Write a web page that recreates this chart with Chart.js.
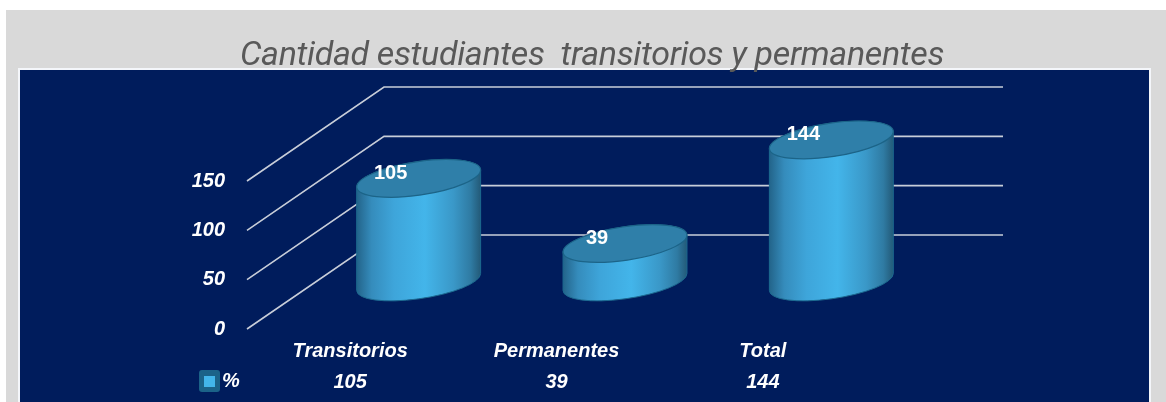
<!DOCTYPE html>
<html lang="es">
<head>
<meta charset="utf-8">
<title>Cantidad estudiantes transitorios y permanentes</title>
<script src="https://cdn.jsdelivr.net/npm/chart.js@4"></script>
<style>
  html, body { margin: 0; padding: 0; background: #fff; overflow: hidden; }
  #page { position: relative; width: 1166px; height: 402px; overflow: hidden; }
  #panel { position: absolute; left: 6px; top: 10px; right: 0; bottom: 0; background: #d9d9d9; }
  #plot { position: absolute; left: 18px; top: 68px; width: 1129px; height: 340px; background: #001c5c; border: 2px solid #f4f6fa; }
  #chartTitle {
    position: absolute; left: 0; top: 32px; width: 1184px; margin: 0; text-align: center; white-space: pre;
    font: italic 400 34px/42px Roboto, "Liberation Sans", Arial, sans-serif; letter-spacing: -0.34px; color: #595959; z-index: 2;
  }
  #chart { position: absolute; left: 0; top: 0; z-index: 1; }
</style>
</head>
<body>
<div id="page">
  <div id="panel"></div>
  <div id="plot"></div>
  <h1 id="chartTitle">Cantidad estudiantes  transitorios y permanentes</h1>
  <canvas id="chart" width="1166" height="402"></canvas>
</div>
<script>
const categories = ['Transitorios', 'Permanentes', 'Total'];
const percentValues = [105, 39, 144];
const seriesName = '%';
const yTicks = [0, 50, 100, 150];

// how far the back wall sits from the front plane
const DEPTH_X = 137;
const DEPTH_Y = -94;
const TEXT_FONT = '"Liberation Sans", Arial, sans-serif';

// walls: lines on the left side wall and the back wall
const wallGrid = {
  id: 'wallGrid',
  beforeDatasetsDraw(chart) {
    const { ctx, scales: { x, y } } = chart;
    ctx.save();
    ctx.strokeStyle = '#c8ced9';
    ctx.lineWidth = 1.6;
    yTicks.forEach(v => {
      const py = y.getPixelForValue(v);
      ctx.beginPath();
      ctx.moveTo(x.left, py);
      ctx.lineTo(x.left + DEPTH_X, py + DEPTH_Y);
      ctx.lineTo(x.right + DEPTH_X, py + DEPTH_Y);
      ctx.stroke();
    });
    ctx.restore();
  }
};

// bars are kept transparent, the cylinders are drawn on top of their elements
const cylinders = {
  id: 'cylinders',
  afterDatasetsDraw(chart) {
    const { ctx } = chart;
    const meta = chart.getDatasetMeta(0);
    const tilt = -8.4 * Math.PI / 180;
    const bBase = 16.7;
    meta.data.forEach((bar, i) => {
      const cx = bar.x + DEPTH_X / 2;
      const top = bar.y + DEPTH_Y / 2;
      const bottom = bar.base + DEPTH_Y / 2;
      const halfW = bar.width / 2;
      const a = halfW * 1.011;
      const b = bBase;
      const t0 = Math.atan2(b * Math.sin(-tilt), a * Math.cos(tilt));

      const grad = ctx.createLinearGradient(cx - halfW, 0, cx + halfW, 0);
      grad.addColorStop(0, '#23648a');
      grad.addColorStop(0.12, '#358cbc');
      grad.addColorStop(0.3, '#3ea5da');
      grad.addColorStop(0.55, '#43b5ea');
      grad.addColorStop(0.78, '#3a98c8');
      grad.addColorStop(0.92, '#2f7ba3');
      grad.addColorStop(1, '#235a78');

      ctx.save();
      ctx.beginPath();
      ctx.ellipse(cx, bottom, a, b, tilt, t0, t0 + Math.PI);
      ctx.ellipse(cx, top, a, b, tilt, t0 + Math.PI, t0 + 2 * Math.PI);
      ctx.closePath();
      ctx.fillStyle = grad;
      ctx.fill();
      ctx.strokeStyle = '#1c6a90';
      ctx.lineWidth = 1;
      ctx.stroke();

      ctx.beginPath();
      ctx.ellipse(cx, top, a, b, tilt, 0, 2 * Math.PI);
      ctx.fillStyle = '#2f7fa9';
      ctx.fill();
      ctx.strokeStyle = '#1c6488';
      ctx.lineWidth = 1.2;
      ctx.stroke();

      ctx.fillStyle = '#fff';
      ctx.font = 'bold 20px ' + TEXT_FONT;
      ctx.textAlign = 'center';
      ctx.textBaseline = 'middle';
      ctx.fillText(String(percentValues[i]), cx - 28, top - 5);
      ctx.restore();
    });
  }
};

// legend key and series name, in the row of values under the axis
const tableKey = {
  id: 'tableKey',
  afterDraw(chart) {
    const { ctx, scales: { x } } = chart;
    const py = x.bottom - 21;
    ctx.save();
    ctx.fillStyle = '#1b6288';
    ctx.beginPath();
    ctx.roundRect(199, py - 11, 21, 22, 3);
    ctx.fill();
    ctx.fillStyle = '#43b5ea';
    ctx.fillRect(204, py - 5, 11, 11);
    ctx.fillStyle = '#fff';
    ctx.font = 'italic bold 20px ' + TEXT_FONT;
    ctx.textAlign = 'left';
    ctx.textBaseline = 'middle';
    ctx.fillText(seriesName, 222, py);
    ctx.restore();
  }
};

const axisFont = { family: TEXT_FONT, size: 20, style: 'italic', weight: 'bold' };

new Chart(document.getElementById('chart'), {
  type: 'bar',
  data: {
    labels: categories,
    datasets: [{
      label: seriesName,
      data: percentValues,
      backgroundColor: 'transparent',
      borderWidth: 0,
      barPercentage: 0.6,
      categoryPercentage: 1
    }]
  },
  plugins: [wallGrid, cylinders, tableKey],
  options: {
    responsive: false,
    animation: false,
    layout: { padding: { left: 147, right: 300, top: 181, bottom: 0 } },
    plugins: {
      legend: { display: false },
      title: { display: false },
      tooltip: { enabled: false }
    },
    scales: {
      x: {
        grid: { display: false, drawTicks: false },
        border: { display: false },
        afterFit(scale) { scale.height = 73; },
        ticks: {
          color: '#fff',
          padding: 7,
          maxRotation: 0,
          font: { ...axisFont, lineHeight: '31px' },
          callback(value, i) {
            return [categories[i], String(percentValues[i])];
          }
        }
      },
      y: {
        min: 0,
        max: 150,
        grid: { display: false, drawTicks: false },
        border: { display: false },
        afterFit(scale) { scale.width = 100; },
        afterBuildTicks(scale) { scale.ticks = yTicks.map(value => ({ value })); },
        ticks: {
          color: '#fff',
          padding: 22,
          font: axisFont
        }
      }
    }
  }
});
</script>
</body>
</html>
